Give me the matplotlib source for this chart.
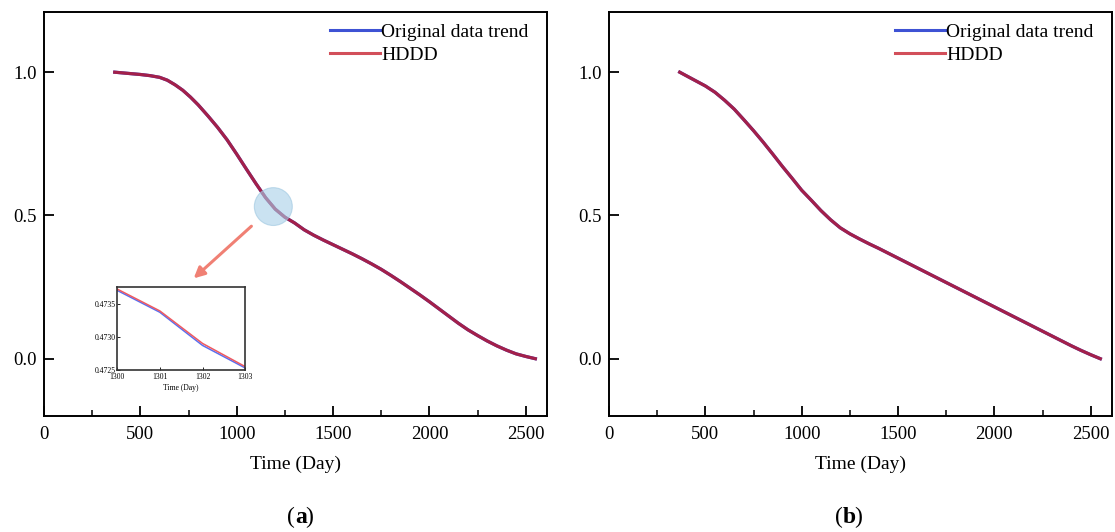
import matplotlib
matplotlib.use("Agg")
import matplotlib.pyplot as plt
from matplotlib.lines import Line2D
from matplotlib.patches import Ellipse, FancyArrowPatch
from matplotlib.ticker import MultipleLocator

plt.rcParams['font.family'] = ['Liberation Serif', 'DejaVu Serif']

# ---- data (a) ----
days_a = [367, 400, 450, 500, 550, 600, 640, 680, 720, 760, 800, 850, 900, 950, 1000,
          1050, 1100, 1150, 1200, 1250, 1300, 1350, 1400, 1450, 1500, 1550, 1600, 1650,
          1700, 1750, 1800, 1850, 1900, 1950, 2000, 2050, 2100, 2150, 2200, 2250, 2300,
          2350, 2400, 2450, 2500, 2550]
orig_a = [1.000, 0.998, 0.995, 0.992, 0.988, 0.982, 0.972, 0.956, 0.937, 0.913, 0.886,
          0.848, 0.808, 0.764, 0.714, 0.662, 0.611, 0.562, 0.522, 0.494, 0.474, 0.450,
          0.431, 0.414, 0.398, 0.382, 0.366, 0.349, 0.331, 0.312, 0.291, 0.269, 0.246,
          0.223, 0.199, 0.174, 0.149, 0.124, 0.101, 0.081, 0.062, 0.045, 0.030, 0.017,
          0.008, 0.000]
hddd_a = list(orig_a)

# ---- data (b) ----
days_b = [367, 400, 450, 500, 550, 600, 650, 700, 750, 800, 850, 900, 950, 1000, 1050,
          1100, 1150, 1200, 1250, 1300, 1350, 1400, 1450, 1500, 1550, 1600, 1650, 1700,
          1750, 1800, 1850, 1900, 1950, 2000, 2050, 2100, 2150, 2200, 2250, 2300, 2350,
          2400, 2450, 2500, 2550]
orig_b = [1.000, 0.988, 0.970, 0.952, 0.930, 0.902, 0.871, 0.834, 0.796, 0.756, 0.714,
          0.671, 0.630, 0.588, 0.553, 0.517, 0.485, 0.457, 0.436, 0.418, 0.401, 0.385,
          0.368, 0.351, 0.334, 0.317, 0.300, 0.283, 0.266, 0.249, 0.232, 0.215, 0.198,
          0.181, 0.164, 0.147, 0.130, 0.113, 0.096, 0.079, 0.062, 0.045, 0.029, 0.014,
          0.000]
hddd_b = list(orig_b)

# ---- inset data ----
inset_days = [1300, 1301, 1302, 1303]
inset_orig = [0.47370, 0.47337, 0.47287, 0.47253]
inset_hddd = [0.47372, 0.47339, 0.47290, 0.47255]

blue = '#3e52d4'
red = '#d24f5a'
line_dark = '#a3204a'

fig = plt.figure(figsize=(11.15, 5.32), dpi=100)
axA = fig.add_axes([0.0395, 0.218, 0.451, 0.7594])
axB = fig.add_axes([0.5462, 0.218, 0.451, 0.7594])


def style(ax):
    ax.set_xlim(0, 2610)
    ax.set_ylim(-0.2, 1.21)
    ax.xaxis.set_major_locator(MultipleLocator(500))
    ax.xaxis.set_minor_locator(MultipleLocator(250))
    ax.set_yticks([0.0, 0.5, 1.0])
    ax.set_yticklabels(['0.0', '0.5', '1.0'])
    ax.tick_params(axis='both', which='major', direction='in', length=7, width=1.3,
                   labelsize=13.5, top=False, right=False)
    ax.tick_params(axis='x', which='major', pad=7.5)
    ax.tick_params(axis='y', which='major', pad=5)
    ax.tick_params(axis='x', which='minor', direction='in', length=4, width=1.1)
    ax.tick_params(axis='y', which='minor', left=False)
    for s in ax.spines.values():
        s.set_linewidth(1.4)
    ax.set_xlabel('Time (Day)', fontsize=14, labelpad=9)
    handles = [Line2D([], [], color=blue, lw=2.2), Line2D([], [], color=red, lw=2.2)]
    ax.legend(handles, ['Original data trend', 'HDDD'], loc='upper right', frameon=False,
              fontsize=14, handlelength=2.6, handletextpad=0.05, borderaxespad=0.2,
              labelspacing=0.25, bbox_to_anchor=(1 - 6.5 / 503, 1.0))


for ax, d, o, h in [(axA, days_a, orig_a, hddd_a), (axB, days_b, orig_b, hddd_b)]:
    ax.plot(d, o, color=blue, lw=2.3)
    ax.plot(d, h, color=line_dark, lw=2.3)
    style(ax)

# highlight circle and arrow on (a)
axA.add_patch(Ellipse((1190, 0.531), 197, 0.132, facecolor='#a8d0e8', alpha=0.6,
                      edgecolor='#9cc6e0', lw=0.8, zorder=3))
axA.add_patch(FancyArrowPatch((1087, 0.469), (766, 0.274), arrowstyle='-|>',
                              mutation_scale=16, color='#f08074', lw=2.2, zorder=3))

# inset
axI = fig.add_axes([0.105, 0.3045, 0.115, 0.156])
axI.plot(inset_days, inset_orig, color='#5a6ff0', lw=1.1)
axI.plot(inset_days, inset_hddd, color='#ee5a60', lw=1.1)
axI.set_xlim(1300, 1303)
axI.set_ylim(0.4725, 0.47375)
axI.set_xticks(inset_days)
axI.set_yticks([0.4725, 0.4730, 0.4735])
axI.set_yticklabels(['0.4725', '0.4730', '0.4735'])
axI.tick_params(labelsize=5.5, direction='in', length=2.5, width=0.6, pad=1)
axI.tick_params(axis='x', pad=2.5)
for s in axI.spines.values():
    s.set_linewidth(1.2)
    s.set_color('#333333')
axI.set_xlabel('Time (Day)', fontsize=5.5, labelpad=2)

ylab = 0.017
fig.text(0.2646, ylab, '(', fontsize=17, ha='right', va='baseline')
fig.text(0.2646, ylab, 'a', fontsize=17, fontweight='bold', ha='left', va='baseline')
fig.text(0.2646 + 0.0095, ylab, ')', fontsize=17, ha='left', va='baseline')
fig.text(0.7558, ylab, '(', fontsize=17, ha='right', va='baseline')
fig.text(0.7558, ylab, 'b', fontsize=17, fontweight='bold', ha='left', va='baseline')
fig.text(0.7558 + 0.0105, ylab, ')', fontsize=17, ha='left', va='baseline')

fig.savefig('out.png', dpi=100)
